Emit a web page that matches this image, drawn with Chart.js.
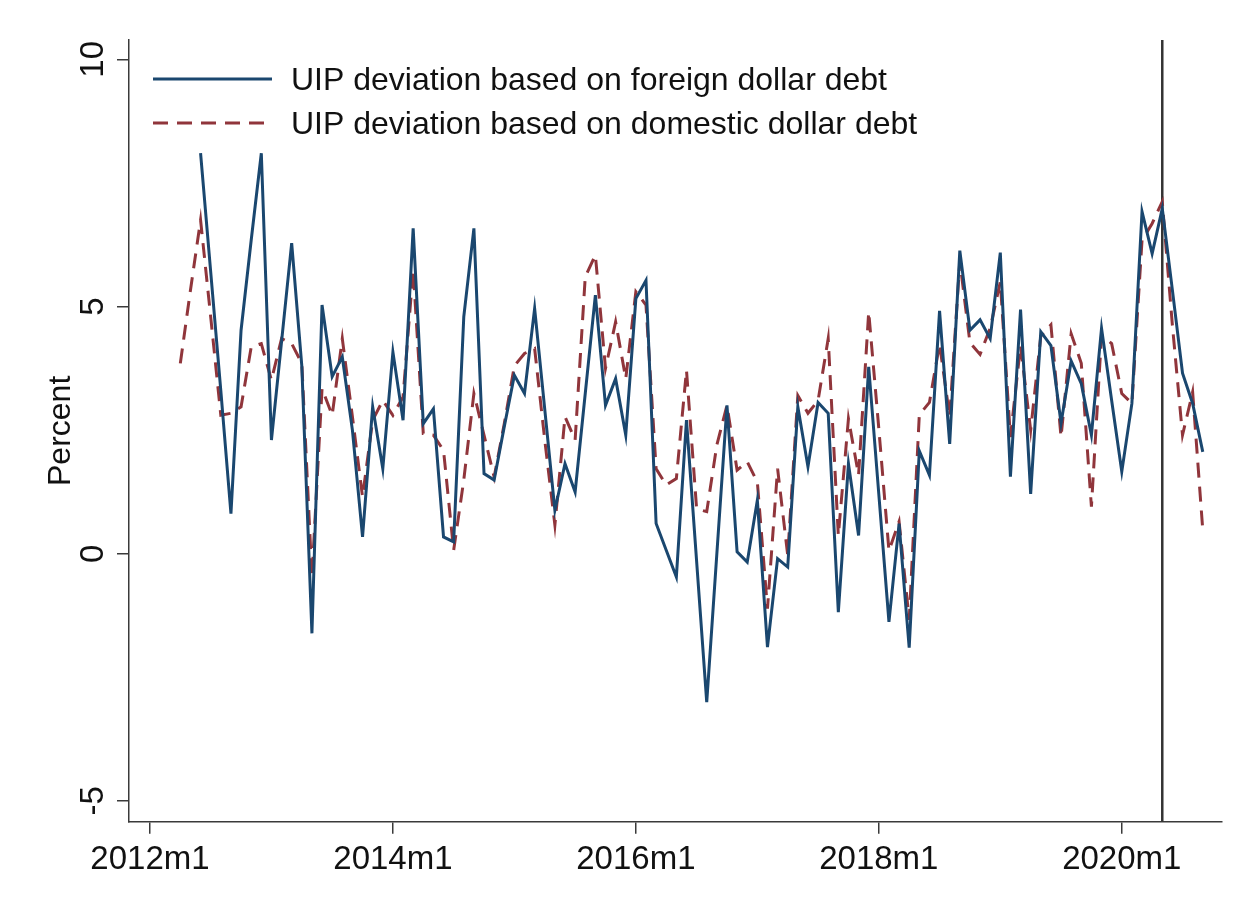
<!DOCTYPE html>
<html>
<head>
<meta charset="utf-8">
<title>UIP deviations</title>
<script src="https://cdn.jsdelivr.net/npm/chart.js@4.4.1/dist/chart.umd.min.js"></script>
<style>
  html, body { margin: 0; padding: 0; background: #fff; }
  canvas { display: block; }
</style>
</head>
<body>
<canvas id="uip" width="1249" height="909"></canvas>
<script>
// monthly observations, 2012m4 .. 2020m9
const firstYear = 2012;
const firstMonth = 4;

// UIP deviation based on foreign dollar debt (percent)
const foreignDebt = [
  null, null, 8.1, 5.7, 3.3, 0.81, 4.52, 6.34, 8.1,
  2.3, 4.29, 6.28, 3.8, -1.61, 5.03, 3.58, 3.98, 2.5, 0.34, 2.97, 1.72,
  4.08, 2.7, 6.58, 2.63, 2.93, 0.34, 0.24, 4.79, 6.58, 1.62, 1.49, 2.57,
  3.61, 3.24, 4.96, 2.92, 0.88, 1.82, 1.25, 3.24, 5.23, 3.0, 3.54, 2.4,
  5.16, 5.53, 0.61, 0.07, -0.47, 2.7, -0.15, -3.0, 0.0, 3.0, 0.04, -0.17,
  1.08, -1.89, -0.1, -0.27, 2.97, 1.76, 3.06, 2.84, -1.18, 1.82, 0.37, 3.78,
  1.2, -1.38, 0.61, -1.9, 2.08, 1.59, 4.91, 2.22, 6.13, 4.52, 4.73, 4.35,
  6.09, 1.56, 4.94, 1.21, 4.49, 4.21, 2.64, 3.9, 3.44, 2.4, 4.56, 3.1,
  1.66, 3.04, 6.92, 6.07, 6.98, 5.33, 3.65, 3.04, 2.06
];

// UIP deviation based on domestic dollar debt (percent)
const domesticDebt = [
  3.85, 5.33, 6.75, 4.79, 2.8, 2.84, 2.97, 4.18, 4.25,
  3.51, 4.35, 4.25, 3.85, -0.47, 3.34, 2.8, 4.35, 2.77, 1.15, 2.7, 3.1,
  2.8, 3.17, 5.74, 2.43, 2.4, 2.09, 0.07, 1.49, 3.24, 2.4, 1.55, 2.63,
  3.8, 4.05, 4.15, 2.3, 0.58, 2.77, 2.3, 5.6, 6.04, 3.75, 4.69, 3.54,
  5.3, 5.03, 1.72, 1.39, 1.52, 3.71, 0.91, 0.85, 2.2, 3.0, 1.69, 1.86,
  1.45, -1.11, 1.72, -0.03, 3.2, 2.84, 3.1, 4.35, 0.37, 2.73, 1.59, 4.89,
  2.53, 0.06, 0.65, -1.34, 2.81, 3.06, 4.24, 2.77, 5.92, 4.27, 4.03, 4.56,
  5.5, 2.36, 4.21, 2.5, 4.4, 4.63, 2.36, 4.45, 3.85, 0.95, 4.42, 4.25,
  3.24, 3.04, 6.34, 6.68, 7.12, 4.62, 2.4, 3.27, 0.48
];

const xTickLabels = ["2012m1", "2014m1", "2016m1", "2018m1", "2020m1"];
const yTickValues = [-5, 0, 5, 10];
const markerPeriod = "2020m5";

const FONT = '"Liberation Sans", Arial, sans-serif';
const INK = "#111";
const AXIS = "#3a3a3a";

// "2012m1" -> 0, "2012m2" -> 1, ...
const monthIndex = (p) => {
  const [y, m] = p.split("m").map(Number);
  return (y - 2012) * 12 + (m - 1);
};
const monthLabel = (i) => (2012 + Math.floor(i / 12)) + "m" + ((i % 12) + 1);

const periods = [];
for (let i = 0; i < domesticDebt.length; i++) {
  const k = (firstYear - 2012) * 12 + firstMonth - 1 + i;
  periods.push(monthLabel(k));
}

const toPoints = (values) =>
  periods.map((p, i) => ({ x: monthIndex(p), y: values[i] }));

// y tick labels turned on their side, reading upwards
const sideLabels = {
  id: "sideLabels",
  afterDraw(chart) {
    const { ctx } = chart;
    const y = chart.scales.y;
    ctx.save();
    ctx.fillStyle = INK;
    ctx.font = "33px " + FONT;
    ctx.textAlign = "center";
    ctx.textBaseline = "middle";
    yTickValues.forEach((v) => {
      ctx.save();
      ctx.translate(94, y.getPixelForValue(v));
      ctx.rotate(-Math.PI / 2);
      ctx.fillText(String(v), 0, 0);
      ctx.restore();
    });
    ctx.restore();
  },
};

// vertical reference line
const markerLine = {
  id: "markerLine",
  beforeDatasetsDraw(chart) {
    const { ctx, chartArea } = chart;
    const x = chart.scales.x.getPixelForValue(monthIndex(markerPeriod));
    ctx.save();
    ctx.strokeStyle = "#333";
    ctx.lineWidth = 2.5;
    ctx.beginPath();
    ctx.moveTo(x, chartArea.top);
    ctx.lineTo(x, chartArea.bottom);
    ctx.stroke();
    ctx.restore();
  },
};

// legend inside the plot, top left
const insideLegend = {
  id: "insideLegend",
  afterDraw(chart) {
    const { ctx } = chart;
    const rows = [79, 123];
    chart.data.datasets.forEach((ds, i) => {
      const y = rows[i];
      ctx.save();
      ctx.strokeStyle = ds.borderColor;
      ctx.lineWidth = ds.borderWidth;
      ctx.setLineDash(ds.borderDash || []);
      ctx.beginPath();
      ctx.moveTo(153, y);
      ctx.lineTo(272, y);
      ctx.stroke();
      ctx.setLineDash([]);
      ctx.fillStyle = INK;
      ctx.font = "32px " + FONT;
      ctx.textAlign = "left";
      ctx.textBaseline = "middle";
      ctx.fillText(ds.label, 291, y + 2);
      ctx.restore();
    });
  },
};

new Chart(document.getElementById("uip"), {
  type: "line",
  data: {
    datasets: [
      {
        label: "UIP deviation based on foreign dollar debt",
        data: toPoints(foreignDebt),
        borderColor: "#1a476f",
        borderWidth: 3,
        pointRadius: 0,
        tension: 0,
      },
      {
        label: "UIP deviation based on domestic dollar debt",
        data: toPoints(domesticDebt),
        borderColor: "#90353b",
        borderWidth: 3,
        borderDash: [15, 9],
        pointRadius: 0,
        tension: 0,
      },
    ],
  },
  options: {
    responsive: false,
    animation: false,
    devicePixelRatio: 1,
    layout: { padding: { top: 40, right: 27, left: 0, bottom: 0 } },
    plugins: { legend: { display: false }, tooltip: { enabled: false } },
    scales: {
      x: {
        type: "linear",
        min: -2.07,
        max: 105.9,
        afterBuildTicks: (s) => {
          s.ticks = xTickLabels.map((l) => ({ value: monthIndex(l) }));
        },
        afterFit: (s) => {
          s.height = 87.3;
        },
        ticks: {
          callback: (v) => monthLabel(v),
          font: { family: FONT, size: 33 },
          color: INK,
          padding: 6,
          maxRotation: 0,
          autoSkip: false,
        },
        grid: { drawOnChartArea: false, tickLength: 12, color: AXIS, lineWidth: 1.5 },
        border: { color: AXIS, width: 1.5 },
      },
      y: {
        min: -5.42,
        max: 10.39,
        afterBuildTicks: (s) => {
          s.ticks = yTickValues.map((v) => ({ value: v }));
        },
        afterFit: (s) => {
          s.width = 129;
        },
        ticks: { display: false },
        grid: { drawOnChartArea: false, tickLength: 12, color: AXIS, lineWidth: 1.5 },
        border: { color: AXIS, width: 1.5 },
        title: {
          display: true,
          text: "Percent",
          color: INK,
          font: { family: FONT, size: 32 },
          padding: { top: 42, bottom: 0 },
        },
      },
    },
  },
  plugins: [markerLine, sideLabels, insideLegend],
});
</script>
</body>
</html>
